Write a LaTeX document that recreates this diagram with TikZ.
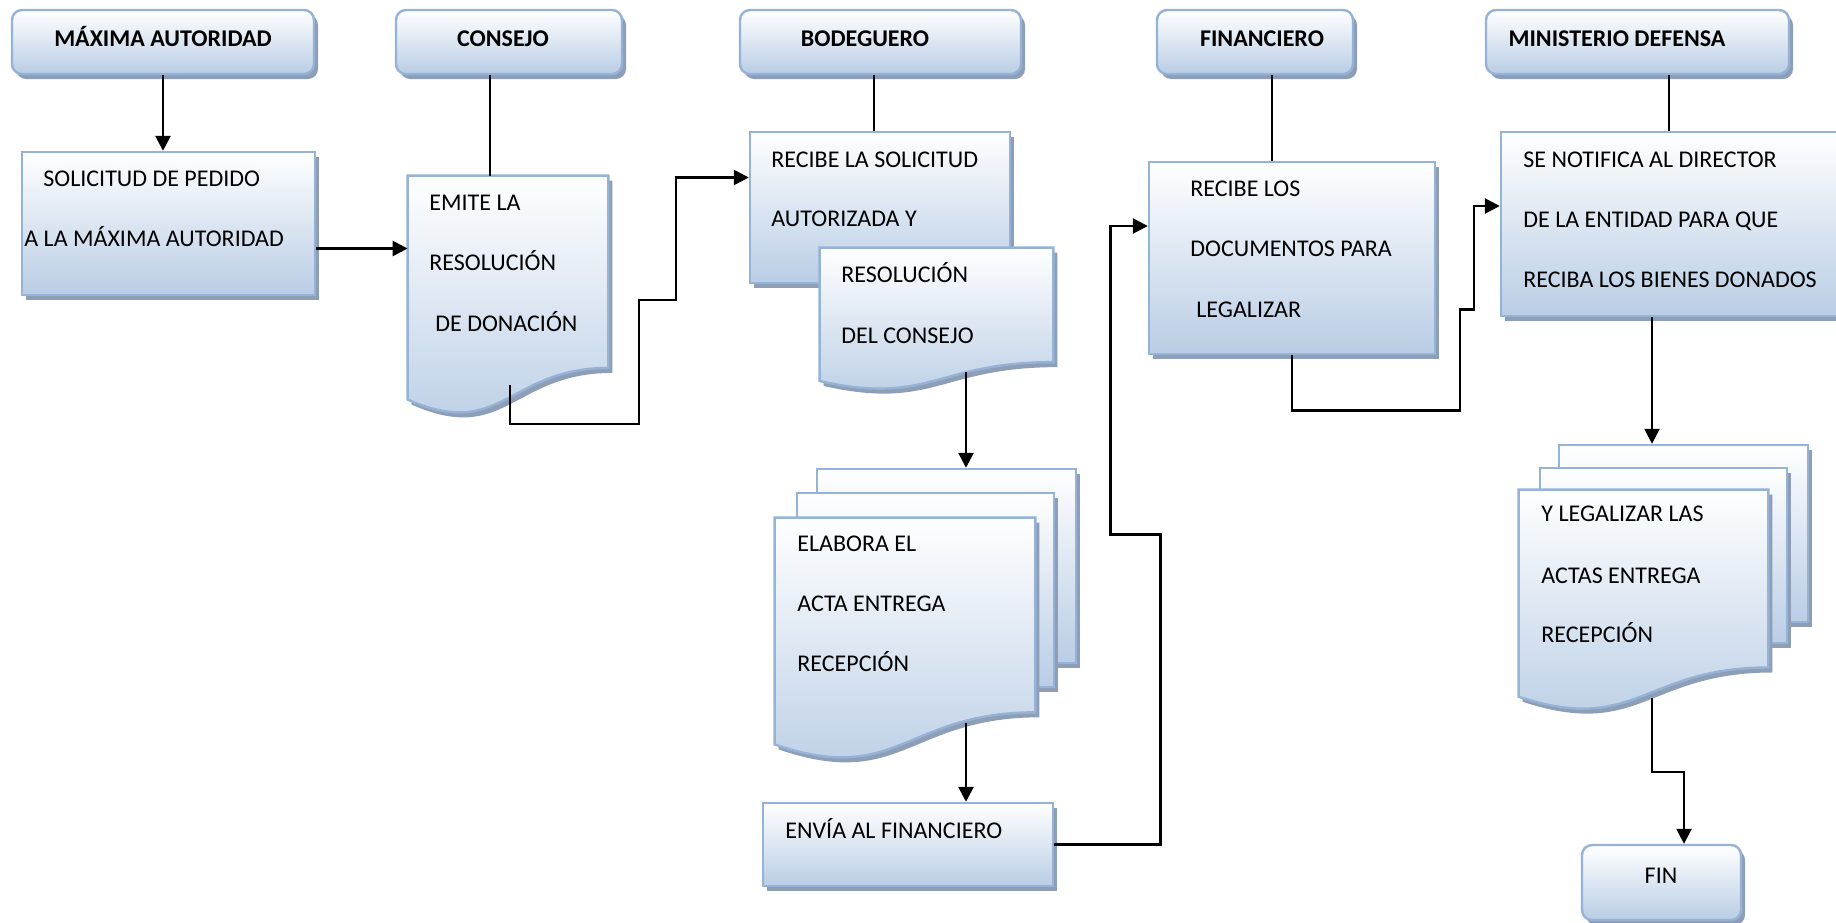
\documentclass[tikz,border=0pt]{standalone}
\usepackage{fontspec}
\setmainfont{Carlito}
\usetikzlibrary{arrows.meta,shadows,calc}

\definecolor{boxborder}{RGB}{149,179,215}
\definecolor{boxfill}{RGB}{185,205,229}
\definecolor{boxshadow}{RGB}{142,158,182}

\tikzset{
  shaded box/.style={draw=boxborder, line width=1.2pt, top color=white, bottom color=boxfill,
    drop shadow={shadow xshift=2pt, shadow yshift=-2.5pt, fill=boxshadow, opacity=1}},
  frame/.style={shape=rectangle, inner sep=0pt, shaded box},
  header/.style={frame, rounded corners=5pt},
  slot/.style={shape=rectangle, inner sep=0pt},
  ltext/.style={anchor=base west, inner sep=0pt, font=\fontsize{12}{14}\selectfont},
  htext/.style={anchor=base, inner sep=0pt, font=\bfseries\fontsize{12}{14}\selectfont},
  ctext/.style={anchor=base, inner sep=0pt, font=\fontsize{12}{14}\selectfont},
  arr/.style={line width=1.3pt, -{Triangle[length=7.5pt,width=7.5pt]}},
  plain/.style={line width=1pt},
}

% document shape with a wavy lower edge, drawn inside a named slot node
\newcommand\drawdoc[1]{%
  \path[shaded box] let \p1=(#1.north west), \p2=(#1.south east) in
    (\x1,\y1) -- (\x2,\y1) -- (\x2,{\y1+0.802*(\y2-\y1)})
    .. controls ({0.5*(\x1+\x2)},{\y1+0.802*(\y2-\y1)}) and ({0.47*(\x1+\x2)+0.06*\x1},{\y1+1.108*(\y2-\y1)}) ..
    (\x1,{\y1+0.934*(\y2-\y1)}) -- cycle;}

\begin{document}
\begin{tikzpicture}[x=0.5pt,y=-0.5pt]
\useasboundingbox (0,0) rectangle (1836,922);
\fill[white] (0,0) rectangle (1836,922);

% ---------- lane headers ----------
\node[header, minimum width=151pt, minimum height=32pt] (maxh) at (163,42) {};
\node[header, minimum width=113pt, minimum height=32pt] (consh) at (509,42) {};
\node[header, minimum width=140.5pt, minimum height=32pt] (bodh) at (880.5,42) {};
\node[header, minimum width=98pt, minimum height=32pt] (finh) at (1255,42) {};
\node[header, minimum width=151.5pt, minimum height=32pt] (minh) at (1637.5,42) {};
\node[htext] (maxh-t) at (163,46) {MÁXIMA AUTORIDAD};
\node[htext] (consh-t) at (503,46) {CONSEJO};
\node[htext] (bodh-t) at (865,46) {BODEGUERO};
\node[htext] (finh-t) at (1262,46) {FINANCIERO};
\node[htext] (minh-t) at (1617,46) {MINISTERIO DEFENSA};

% ---------- máxima autoridad ----------
\node[frame, minimum width=146.5pt, minimum height=71.5pt] (solic) at (168.5,223.5) {};
\node[ltext] (solic-1) at (43,186) {SOLICITUD DE PEDIDO};
\node[ltext] (solic-2) at (24,246) {A LA MÁXIMA AUTORIDAD};

% ---------- consejo ----------
\node[slot, minimum width=100pt, minimum height=119.5pt] (emite) at (508,295.5) {};
\drawdoc{emite}
\node[ltext] (emite-1) at (429,210) {EMITE LA};
\node[ltext] (emite-2) at (429,270) {RESOLUCIÓN};
\node[ltext] (emite-3) at (435,331) {DE DONACIÓN};

% ---------- bodeguero ----------
\node[frame, minimum width=130pt, minimum height=75.5pt] (recibe) at (880,207.5) {};
\node[ltext] (recibe-1) at (771,167) {RECIBE LA SOLICITUD};
\node[ltext] (recibe-2) at (771,226) {AUTORIZADA Y};

\node[slot, minimum width=116.5pt, minimum height=71pt] (res) at (936.5,319) {};
\drawdoc{res}
\node[ltext] (res-1) at (841,282) {RESOLUCIÓN};
\node[ltext] (res-2) at (841,343) {DEL CONSEJO};

\node[frame, minimum width=129.5pt, minimum height=97pt] (elabback) at (946.5,566) {};
\node[frame, minimum width=128.5pt, minimum height=97pt] (elabmid) at (925.5,590) {};
\node[slot, minimum width=130pt, minimum height=121pt] (elab) at (905,639) {};
\drawdoc{elab}
\node[ltext] (elab-1) at (797,551) {ELABORA EL};
\node[ltext] (elab-2) at (797,611) {ACTA ENTREGA};
\node[ltext] (elab-3) at (797,671) {RECEPCIÓN};

\node[frame, minimum width=145pt, minimum height=41.5pt] (envia) at (908,844.5) {};
\node[ltext] (envia-1) at (785,838) {ENVÍA AL FINANCIERO};

% ---------- financiero ----------
\node[frame, minimum width=143pt, minimum height=96pt] (recibelos) at (1292,258) {};
\node[ltext] (recibelos-1) at (1190,196) {RECIBE LOS};
\node[ltext] (recibelos-2) at (1190,256) {DOCUMENTOS PARA};
\node[ltext] (recibelos-3) at (1196,317) {LEGALIZAR};

% ---------- ministerio defensa ----------
\node[frame, minimum width=172.5pt, minimum height=92pt] (notif) at (1673.5,224) {};
\node[ltext] (notif-1) at (1523,167) {SE NOTIFICA AL DIRECTOR};
\node[ltext] (notif-2) at (1523,227) {DE LA ENTIDAD PARA QUE};
\node[ltext] (notif-3) at (1523,287) {RECIBA LOS BIENES DONADOS};

\node[frame, minimum width=124.5pt, minimum height=88.5pt] (ylegback) at (1683.5,533.5) {};
\node[frame, minimum width=123.5pt, minimum height=87.5pt] (ylegmid) at (1663.5,555.5) {};
\node[slot, minimum width=124.5pt, minimum height=110.5pt] (yleg) at (1643.5,600.5) {};
\drawdoc{yleg}
\node[ltext] (yleg-1) at (1541,521) {Y LEGALIZAR LAS};
\node[ltext] (yleg-2) at (1541,583) {ACTAS ENTREGA};
\node[ltext] (yleg-3) at (1541,642) {RECEPCIÓN};

\node[header, minimum width=79.5pt, minimum height=37.5pt] (fin) at (1661.5,882.5) {};
\node[ctext] (fin-t) at (1661,883) {FIN};

% ---------- connector end points on the wavy edges ----------
\coordinate (emite-out) at (510,385);
\coordinate (res-out) at (966,372);
\coordinate (elab-out) at (966,723);
\coordinate (yleg-out) at (1652,698);

% ---------- connectors ----------
\draw[arr] (maxh.south) -- (maxh.south |- solic.north);
\draw[arr] ([yshift=-12.5pt]solic.east) coordinate (s1) -- (s1 -| emite.west);
\draw[plain] ([xshift=-9.5pt]consh.south) coordinate (c1) -- (c1 |- emite.north);
\draw[arr] (emite-out) -- ++(0,39) -- ++(129,0) -- ++(0,-124) -- ++(37,0)
  |- ([yshift=15pt]recibe.west);
\draw[plain] ([xshift=-3.5pt]bodh.south) coordinate (b1) -- (b1 |- recibe.north);
\draw[arr] (res-out) -- (res-out |- elabback.north);
\draw[arr] (elab-out) -- (elab-out |- envia.north);
\draw[arr] (envia.east) -- ++(106,0) -- ++(0,-310) -- ++(-50,0)
  |- ([yshift=16pt]recibelos.west);
\draw[plain] ([xshift=8.5pt]finh.south) coordinate (f1) -- (f1 |- recibelos.north);
\draw[arr] (recibelos.south) -- ++(0,55) -- ++(168,0) -- ++(0,-101) -- ++(14,0)
  |- ([yshift=9pt]notif.west);
\draw[plain] ([xshift=15.75pt]minh.south) coordinate (m1) -- (m1 |- notif.north);
\draw[arr] (yleg-out |- notif.south) -- (yleg-out |- ylegback.north);
\draw[arr] (yleg-out) -- ++(0,74) -| ([xshift=11.25pt]fin.north);
\end{tikzpicture}
\end{document}
